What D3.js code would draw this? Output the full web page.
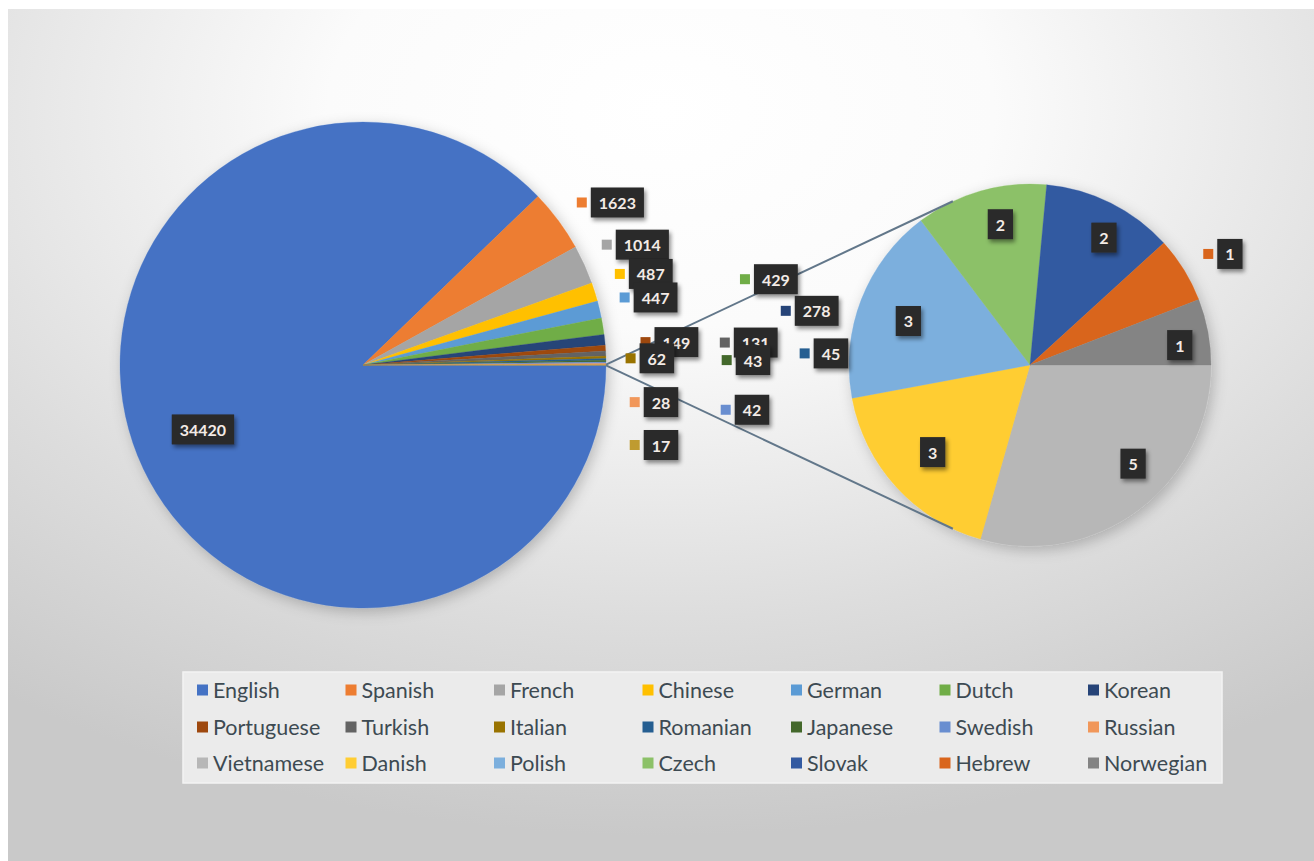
<!DOCTYPE html>
<html>
<head>
<meta charset="utf-8">
<script src="https://cdn.jsdelivr.net/npm/d3@7"></script>
<style>
  html, body { margin: 0; padding: 0; background: #ffffff; }
  svg { display: block; }
</style>
</head>
<body>
<svg id="chart" width="1314" height="861"></svg>
<script>
// ---------------- DATA ----------------
const mainCategories = ["English", "Spanish", "French", "Chinese", "German", "Dutch", "Korean",
  "Portuguese", "Turkish", "Italian", "Romanian", "Japanese", "Swedish", "Russian"];
const mainValues = [34420, 1623, 1014, 487, 447, 429, 278, 149, 131, 62, 45, 43, 42, 28];

const subCategories = ["Vietnamese", "Danish", "Polish", "Czech", "Slovak", "Hebrew", "Norwegian"];
const subValues = [5, 3, 3, 2, 2, 1, 1];

const otherLabel = "Other";

const legendLabels = mainCategories.concat(subCategories);

// ---------------- STYLE / LAYOUT ----------------
const colorMap = {
  English: "#4472C4", Spanish: "#ED7D31", French: "#A5A5A5", Chinese: "#FFC000",
  German: "#5B9BD5", Dutch: "#70AD47", Korean: "#264478", Portuguese: "#9E480E",
  Turkish: "#636363", Italian: "#997300", Romanian: "#255E91", Japanese: "#43682B",
  Swedish: "#698ED0", Russian: "#F1975A", Vietnamese: "#B7B7B7", Danish: "#FFCD33",
  Polish: "#7CAFDD", Czech: "#8CC168", Slovak: "#335AA1", Hebrew: "#D9651C",
  Norwegian: "#848484", Other: "#BF9B30"
};

// label offsets (dx, dy) from slice outer point at mid-angle (manually dragged labels)
const mainLabelOffsets = {
  Spanish: [59, -18], French: [58, -20], Chinese: [56, -18], German: [56, -12],
  Dutch: [173, -47], Korean: [212, -29], Portuguese: [71, -6], Turkish: [150, -11],
  Italian: [51, 1], Romanian: [225, -6], Japanese: [147, -1], Swedish: [146, 47],
  Russian: [55, 38], Other: [55, 80]
};
// small nudges for the secondary-pie labels
const subLabelNudges = {
  Vietnamese: [18, -14], Danish: [7, -8], Polish: [10, 7], Czech: [9, -5],
  Slovak: [11, -1], Hebrew: [6, 9], Norwegian: [11, 6]
};

const W = 1314, H = 861;
const main = { cx: 363, cy: 365, r: 243 };
const sub = { cx: 1030, cy: 365, r: 181 };

const svg = d3.select("#chart");
const defs = svg.append("defs");

// background gradient
const bg = defs.append("radialGradient").attr("id", "bgGrad")
  .attr("cx", "0.5").attr("cy", "0.12").attr("r", "0.85")
  .attr("fx", "0.5").attr("fy", "0.12");
bg.append("stop").attr("offset", "0").attr("stop-color", "#ffffff");
bg.append("stop").attr("offset", "0.3").attr("stop-color", "#fbfbfb");
bg.append("stop").attr("offset", "0.7").attr("stop-color", "#dddddd");
bg.append("stop").attr("offset", "1").attr("stop-color", "#c9c9c9");

const pieShadow = defs.append("filter").attr("id", "pieShadow")
  .attr("x", "-20%").attr("y", "-20%").attr("width", "140%").attr("height", "140%");
pieShadow.append("feDropShadow").attr("dx", 3).attr("dy", 4).attr("stdDeviation", 7)
  .attr("flood-color", "#000").attr("flood-opacity", 0.22);

const boxShadow = defs.append("filter").attr("id", "boxShadow")
  .attr("x", "-30%").attr("y", "-30%").attr("width", "170%").attr("height", "170%");
boxShadow.append("feDropShadow").attr("dx", 2).attr("dy", 3).attr("stdDeviation", 2)
  .attr("flood-color", "#000").attr("flood-opacity", 0.45);

svg.append("rect").attr("x", 8).attr("y", 9).attr("width", W - 8).attr("height", H - 9)
  .attr("fill", "url(#bgGrad)");

// ---------------- MAIN PIE ----------------
const otherValue = d3.sum(subValues);
const mainData = mainCategories.map((c, i) => ({ name: c, value: mainValues[i] }))
  .concat([{ name: otherLabel, value: otherValue }]);
const total = d3.sum(mainData, d => d.value);
const otherAng = 2 * Math.PI * otherValue / total;

const mainPie = d3.pie().sort(null).value(d => d.value)
  .startAngle(Math.PI / 2 + otherAng / 2 - 2 * Math.PI)
  .endAngle(Math.PI / 2 + otherAng / 2);
const mainArcs = mainPie(mainData);
const mainArc = d3.arc().innerRadius(0).outerRadius(main.r);

const gMain = svg.append("g").attr("transform", `translate(${main.cx},${main.cy})`);
gMain.append("g").attr("filter", "url(#pieShadow)")
  .selectAll("path").data(mainArcs).join("path")
  .attr("d", mainArc)
  .attr("fill", d => colorMap[d.data.name])
  .attr("stroke", d => colorMap[d.data.name]).attr("stroke-width", 0.3);

// ---------------- SECONDARY PIE ----------------
const subData = subCategories.map((c, i) => ({ name: c, value: subValues[i] }));
const subPie = d3.pie().sort(null).value(d => d.value)
  .startAngle(Math.PI / 2).endAngle(Math.PI / 2 + 2 * Math.PI);
const subArcs = subPie(subData);
const subArc = d3.arc().innerRadius(0).outerRadius(sub.r);

const gSub = svg.append("g").attr("transform", `translate(${sub.cx},${sub.cy})`);
gSub.append("g").attr("filter", "url(#pieShadow)")
  .selectAll("path").data(subArcs).join("path")
  .attr("d", subArc)
  .attr("fill", d => colorMap[d.data.name])
  .attr("stroke", d => colorMap[d.data.name]).attr("stroke-width", 0.3);

// ---------------- CONNECTOR LINES ----------------
function polar(c, r, a) { return [c.cx + r * Math.sin(a), c.cy - r * Math.cos(a)]; }
const otherArc = mainArcs[mainArcs.length - 1];
const pTop = polar(main, main.r, otherArc.startAngle);
const pBot = polar(main, main.r, otherArc.endAngle);
function tangent(p, sign) {
  const dx = p[0] - sub.cx, dy = p[1] - sub.cy;
  const d = Math.hypot(dx, dy);
  const base = Math.atan2(dy, dx);
  const alpha = Math.acos(sub.r / d);
  const a = base + sign * alpha;
  return [sub.cx + sub.r * Math.cos(a), sub.cy + sub.r * Math.sin(a)];
}
const lineG = svg.append("g").attr("stroke", "#62778a").attr("stroke-width", 2).attr("fill", "none");
const tA = tangent(pTop, 1), tB = tangent(pTop, -1);
const upper = tA[1] < tB[1] ? tA : tB;
const tC = tangent(pBot, 1), tD = tangent(pBot, -1);
const lower = tC[1] > tD[1] ? tC : tD;
lineG.append("line").attr("x1", pTop[0]).attr("y1", pTop[1]).attr("x2", upper[0]).attr("y2", upper[1]);
lineG.append("line").attr("x1", pBot[0]).attr("y1", pBot[1]).attr("x2", lower[0]).attr("y2", lower[1]);

// ---------------- DATA LABELS ----------------
const labelG = svg.append("g");
function drawLabel(x, y, text, markerColor) {
  const g = labelG.append("g");
  const t = g.append("text").attr("x", x).attr("y", y)
    .attr("text-anchor", "middle").attr("dominant-baseline", "central")
    .attr("font-family", "Lato, 'Open Sans', sans-serif").attr("font-weight", 700)
    .attr("font-size", 16).attr("fill", "#f3ebe6").text(text);
  const tw = t.node().getComputedTextLength();
  const bw = tw + 16, bh = 30;
  g.insert("rect", "text").attr("x", x - bw / 2).attr("y", y - bh / 2)
    .attr("width", bw).attr("height", bh).attr("fill", "#2b2b2b")
    .attr("filter", "url(#boxShadow)");
  if (markerColor) {
    g.insert("rect", "rect").attr("x", x - bw / 2 - 14).attr("y", y - 5)
      .attr("width", 10).attr("height", 10).attr("fill", markerColor);
  }
}

mainArcs.forEach(d => {
  const name = d.data.name;
  const mid = (d.startAngle + d.endAngle) / 2;
  if (name === "English") {
    const p = polar(main, main.r * 0.71, mid);
    drawLabel(p[0], p[1], d.data.value, null);
  } else {
    const p = polar(main, main.r, mid);
    const off = mainLabelOffsets[name];
    drawLabel(p[0] + off[0], p[1] + off[1], d.data.value, colorMap[name]);
  }
});

subArcs.forEach(d => {
  const name = d.data.name;
  const mid = (d.startAngle + d.endAngle) / 2;
  const n = subLabelNudges[name];
  if (name === "Hebrew") {
    const p = polar(sub, sub.r * 1.26, mid);
    drawLabel(p[0] + n[0], p[1] + n[1], d.data.value, colorMap[name]);
  } else {
    const p = polar(sub, sub.r * 0.78, mid);
    drawLabel(p[0] + n[0], p[1] + n[1], d.data.value, null);
  }
});

// ---------------- LEGEND ----------------
const legend = svg.append("g");
legend.append("rect").attr("x", 183).attr("y", 672).attr("width", 1039).attr("height", 111)
  .attr("fill", "#ebebeb").attr("stroke", "#f3f3f3").attr("stroke-width", 1.5);
const cols = 7, colW = 148.5, x0 = 197, rowY = [690, 727, 763];
legendLabels.forEach((name, i) => {
  const col = i % cols, row = Math.floor(i / cols);
  const x = x0 + col * colW, y = rowY[row];
  legend.append("rect").attr("x", x).attr("y", y - 5.5).attr("width", 11).attr("height", 11)
    .attr("fill", colorMap[name]);
  legend.append("text").attr("x", x + 16).attr("y", y)
    .attr("dominant-baseline", "central")
    .attr("font-family", "Lato, 'Open Sans', sans-serif").attr("font-size", 21.5)
    .attr("fill", "#3d4a52").text(name);
});
</script>
</body>
</html>
